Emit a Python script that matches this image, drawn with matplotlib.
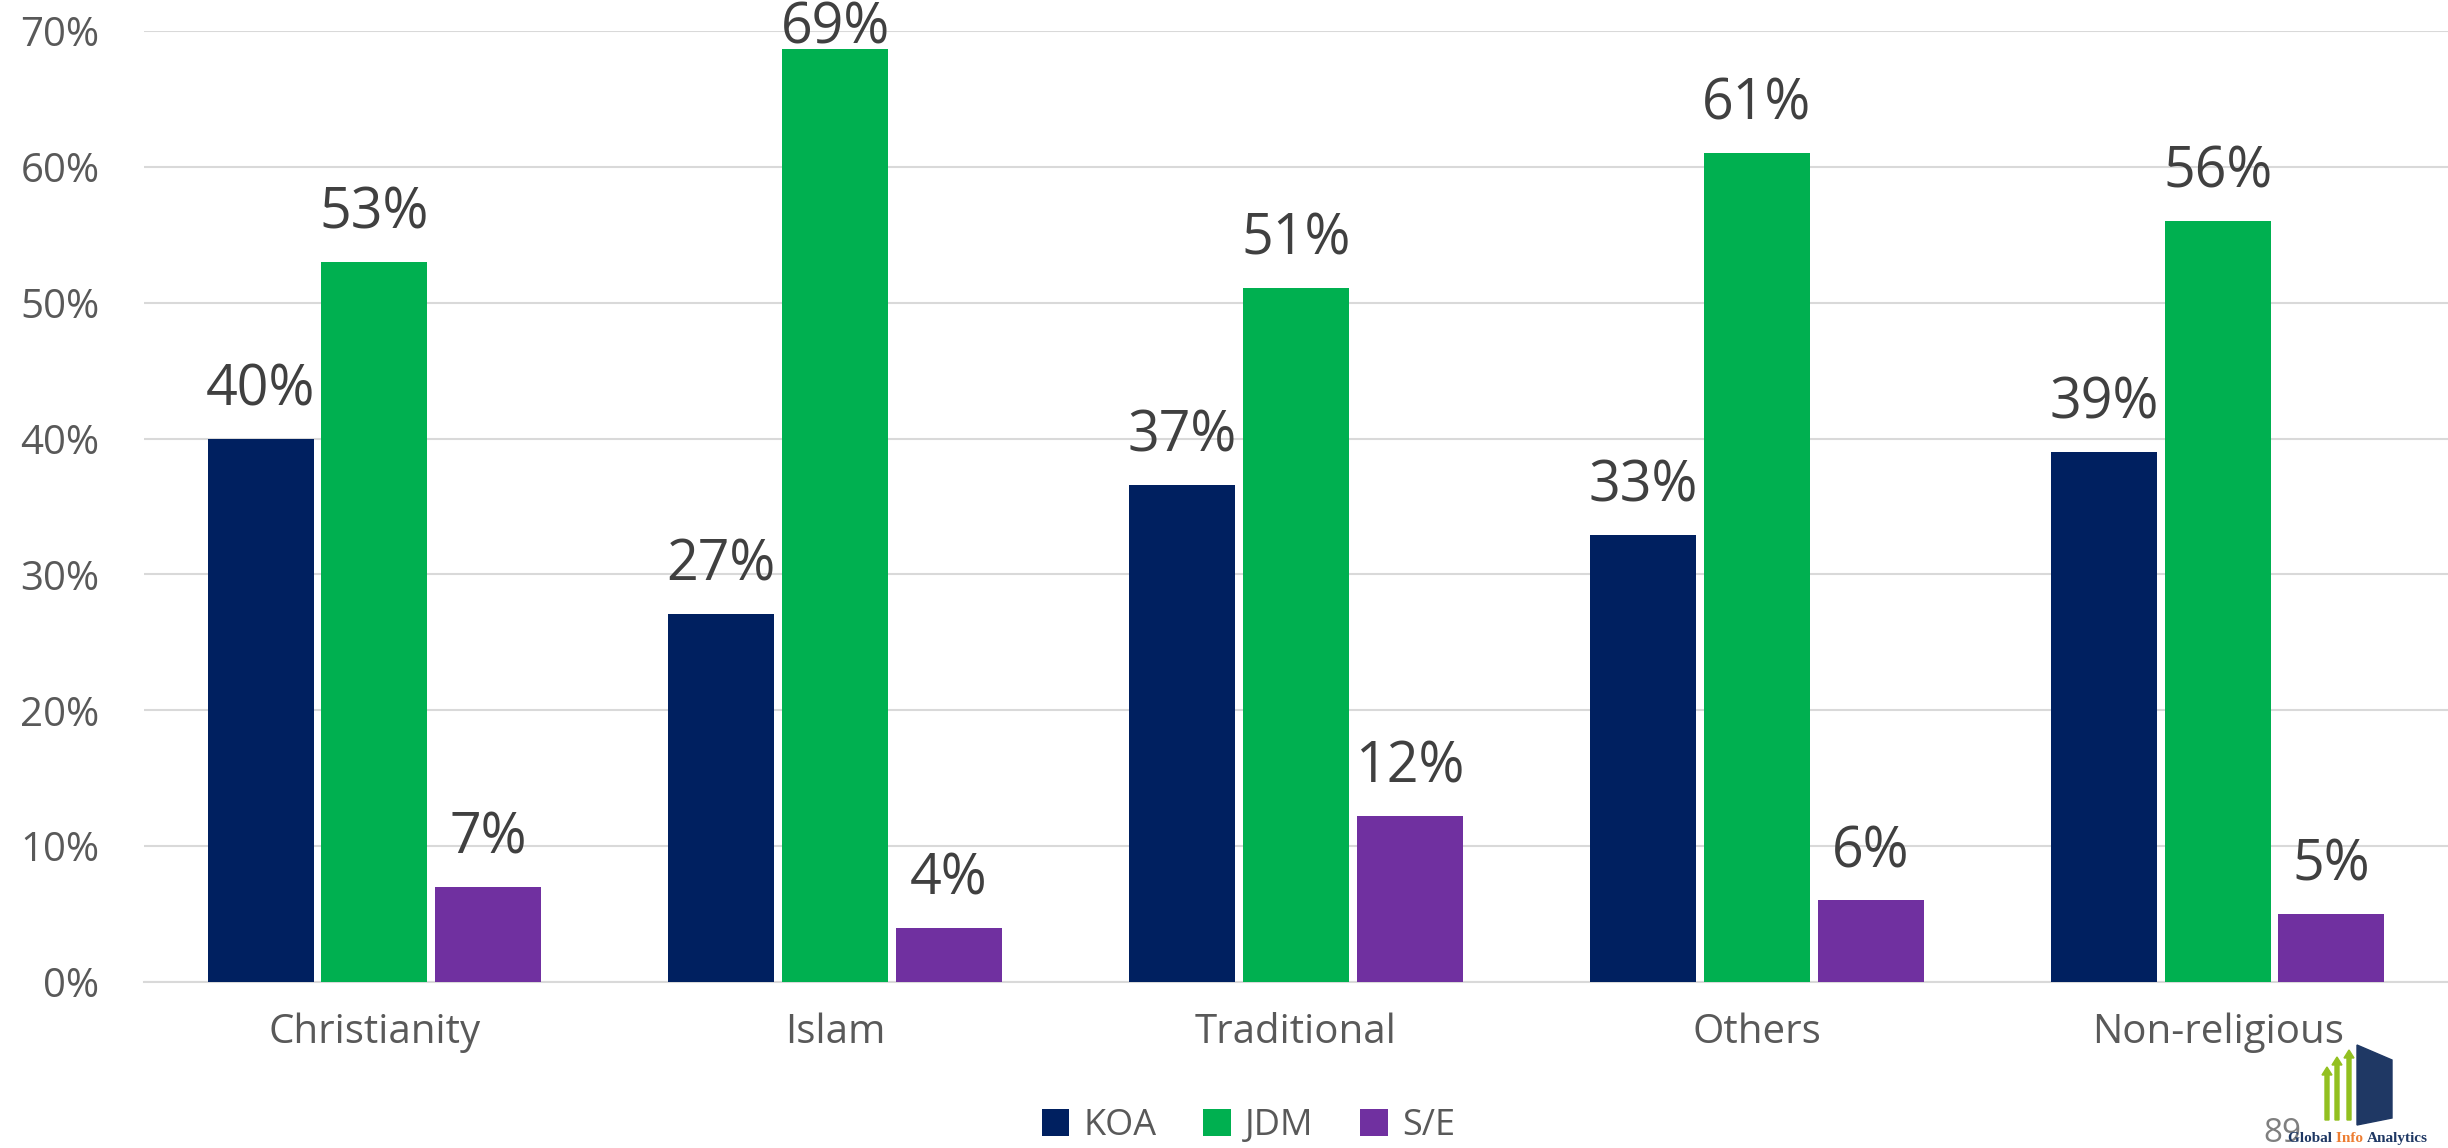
import numpy as np
import matplotlib
matplotlib.use('Agg')
import matplotlib.pyplot as plt
from matplotlib.patches import Polygon

plt.rcParams['font.family'] = ['Open Sans', 'DejaVu Sans']

categories = ['Christianity', 'Islam', 'Traditional', 'Others', 'Non-religious']
series = ['KOA', 'JDM', 'S/E']
koa = [40, 27.1, 36.6, 32.9, 39]
jdm = [53, 68.7, 51.1, 61, 56]
se = [7, 4, 12.2, 6, 5]
koa_lbl = ['40%', '27%', '37%', '33%', '39%']
jdm_lbl = ['53%', '69%', '51%', '61%', '56%']
se_lbl = ['7%', '4%', '12%', '6%', '5%']
colors = ['#002060', '#00B050', '#7030A0']

fig = plt.figure(figsize=(24.48, 11.48), dpi=100)
ax = fig.add_axes([0.0588, 0.1446, 0.9412, 0.8284])

x = np.arange(len(categories))
w = 0.23
step = 0.247
for i, (vals, lbls) in enumerate(zip([koa, jdm, se], [koa_lbl, jdm_lbl, se_lbl])):
    pos = x + (i - 1) * step
    ax.bar(pos, vals, width=w, color=colors[i], label=series[i], zorder=3)
    for px, v, t in zip(pos, vals, lbls):
        if v > 64:
            # no room above the bar: label is pushed down to the top edge
            ax.annotate(t, (px, 1.0), xycoords=('data', 'figure fraction'),
                        ha='center', va='top', fontsize=40, color='#404040', zorder=4)
        else:
            ax.annotate(t, (px, v), xytext=(0, 14), textcoords='offset points',
                        ha='center', va='bottom', fontsize=40, color='#404040', zorder=4)

ax.set_xlim(-0.5, len(categories) - 0.5)
ax.set_ylim(0, 70)
ax.set_yticks(range(0, 71, 10))
ax.set_yticklabels([f'{t}%' for t in range(0, 71, 10)])
ax.set_xticks(x)
ax.set_xticklabels(categories)
ax.tick_params(axis='both', length=0, labelsize=29, colors='#595959')
ax.tick_params(axis='y', pad=32)
ax.tick_params(axis='x', pad=22)
ax.grid(axis='y', color='#D9D9D9', linewidth=1.5, zorder=0)
for s in ['top', 'right', 'left']:
    ax.spines[s].set_visible(False)
ax.spines['bottom'].set_color('#D9D9D9')
ax.spines['bottom'].set_linewidth(1.5)

fig.legend(loc='center', bbox_to_anchor=(0.51, 0.019), ncol=3, frameon=False,
           fontsize=26, labelcolor='#595959', handlelength=0.75, handleheight=0.75,
           handletextpad=0.4, columnspacing=1.3)

# logo in the corner
W, H = 2448, 1148
def fx(p): return p / W
def fy(p): return 1 - p / H
fig.patches.append(Polygon([(fx(2357), fy(1045)), (fx(2392), fy(1060)), (fx(2392), fy(1118)),
                            (fx(2357), fy(1125))], closed=True, transform=fig.transFigure,
                           color='#1F3864', zorder=5))
for ax0, top in [(2325, 1075), (2335, 1065), (2347, 1058)]:
    fig.patches.append(Polygon([(fx(ax0), fy(1120)), (fx(ax0 + 4), fy(1120)), (fx(ax0 + 4), fy(top)),
                                (fx(ax0 + 7), fy(top)), (fx(ax0 + 2), fy(top - 8)), (fx(ax0 - 3), fy(top)),
                                (fx(ax0), fy(top))], closed=True, transform=fig.transFigure,
                               color='#92C020', zorder=5))
fig.text(fx(2263), fy(1150), '89', fontsize=24, color='#7F7F7F', va='bottom', zorder=1)

r = fig.canvas.get_renderer()
xpos = 2288
for part, col in [('Global ', '#1F3864'), ('Info ', '#ED7D31'), ('Analytics', '#1F3864')]:
    t = fig.text(fx(xpos), fy(1145), part, fontsize=11, color=col, family='Liberation Serif',
                 weight='bold', va='bottom', zorder=6)
    xpos += t.get_window_extent(r).width

fig.savefig('out.png', dpi=100)
